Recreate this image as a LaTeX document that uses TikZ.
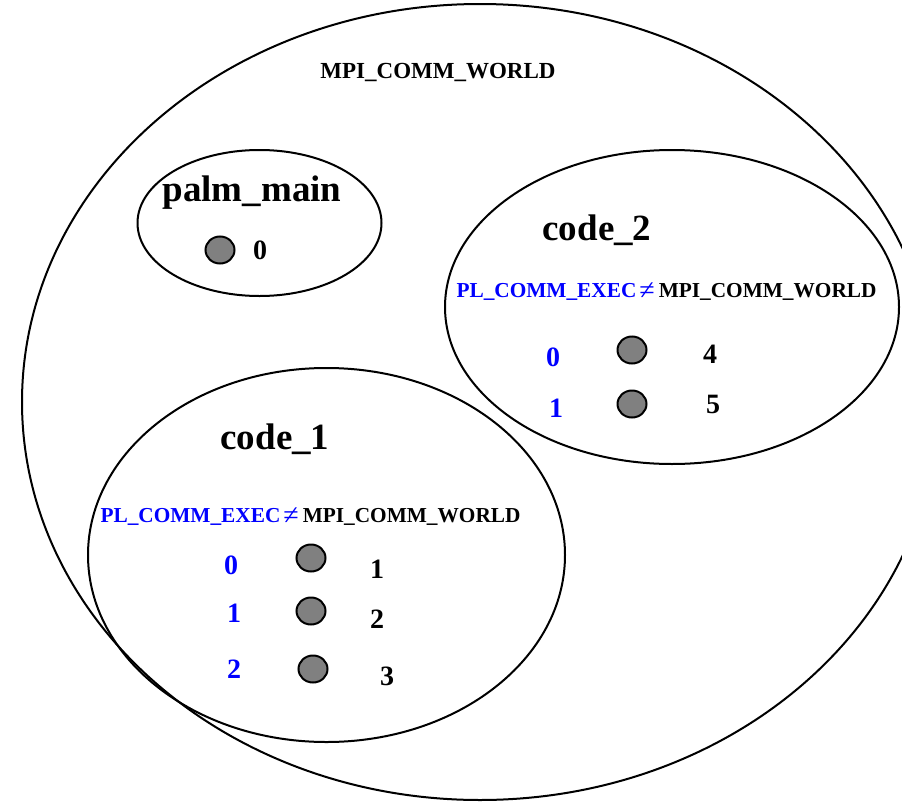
\documentclass[tikz,border=0pt]{standalone}
\usepackage{fontspec}
\setmainfont{Liberation Serif}
\usetikzlibrary{shapes.geometric}
\definecolor{plblue}{RGB}{0,0,255}
\definecolor{dotgray}{RGB}{128,128,128}
\newcommand{\neqsym}{\raisebox{-2.5pt}{\fontsize{28}{28}\selectfont\mdseries ≠}}
\tikzset{
  group/.style={ellipse, draw, line width=2pt, inner sep=0pt},
  proc/.style={ellipse, draw, line width=2pt, fill=dotgray, minimum width=29pt, minimum height=27pt, inner sep=0pt},
  title/.style={font=\fontsize{37}{40}\selectfont\bfseries, inner sep=0pt},
  world/.style={font=\fontsize{23}{26}\selectfont\bfseries, inner sep=0pt},
  comm/.style={font=\fontsize{21.3}{24}\selectfont\bfseries, inner sep=0pt},
  rank/.style={font=\fontsize{28}{30}\selectfont\bfseries, text=plblue, inner sep=0pt},
  gid/.style={font=\fontsize{28}{30}\selectfont\bfseries, inner sep=0pt},
}
\begin{document}
\begin{tikzpicture}[x=1pt,y=-1pt]
\useasboundingbox (0,0) rectangle (902,803);
\clip (0,0) rectangle (902,803);
% communicators
\node[group, minimum width=916pt, minimum height=796pt] (worldE) at (480,402) {};
\node[group, minimum width=244pt, minimum height=146pt] (palmE) at (259.5,223) {};
\node[group, minimum width=454pt, minimum height=314pt] (code2E) at (672,307) {};
\node[group, minimum width=477pt, minimum height=374pt] (code1E) at (326.5,555) {};
% labels
\node[world] (worldL) at (438,72) {MPI\_COMM\_WORLD};
\node[title] (palmL) at (252,193) {palm\_main};
\node[title] (code2L) at (597,230) {code\_2};
\node[title] (code1L) at (275,439) {code\_1};
\node[comm, anchor=base] (c2comm) at (666.5,297) {{\color{plblue}PL\_COMM\_EXEC\kern3pt\neqsym}\kern4pt MPI\_COMM\_WORLD};
\node[comm, anchor=base] (c1comm) at (310.5,522) {{\color{plblue}PL\_COMM\_EXEC\kern3pt\neqsym}\kern4pt MPI\_COMM\_WORLD};
% palm_main
\node[proc] (p0) at (220,250) {};
\node[gid] (g0) at (260,250) {0};
% code_2
\node[rank] (r20) at (553,357) {0};
\node[proc] (p4) at (632,350) {};
\node[gid] (g4) at (710,354) {4};
\node[rank] (r21) at (556,408) {1};
\node[proc] (p5) at (632,404) {};
\node[gid] (g5) at (713,404) {5};
% code_1
\node[rank] (r10) at (231,565) {0};
\node[proc] (p1) at (311,558) {};
\node[gid] (g1) at (377,569) {1};
\node[rank] (r11) at (234,613) {1};
\node[proc] (p2) at (311,611) {};
\node[gid] (g2) at (377,619) {2};
\node[rank] (r12) at (234,669) {2};
\node[proc] (p3) at (313,669) {};
\node[gid] (g3) at (387,676) {3};
\end{tikzpicture}
\end{document}
